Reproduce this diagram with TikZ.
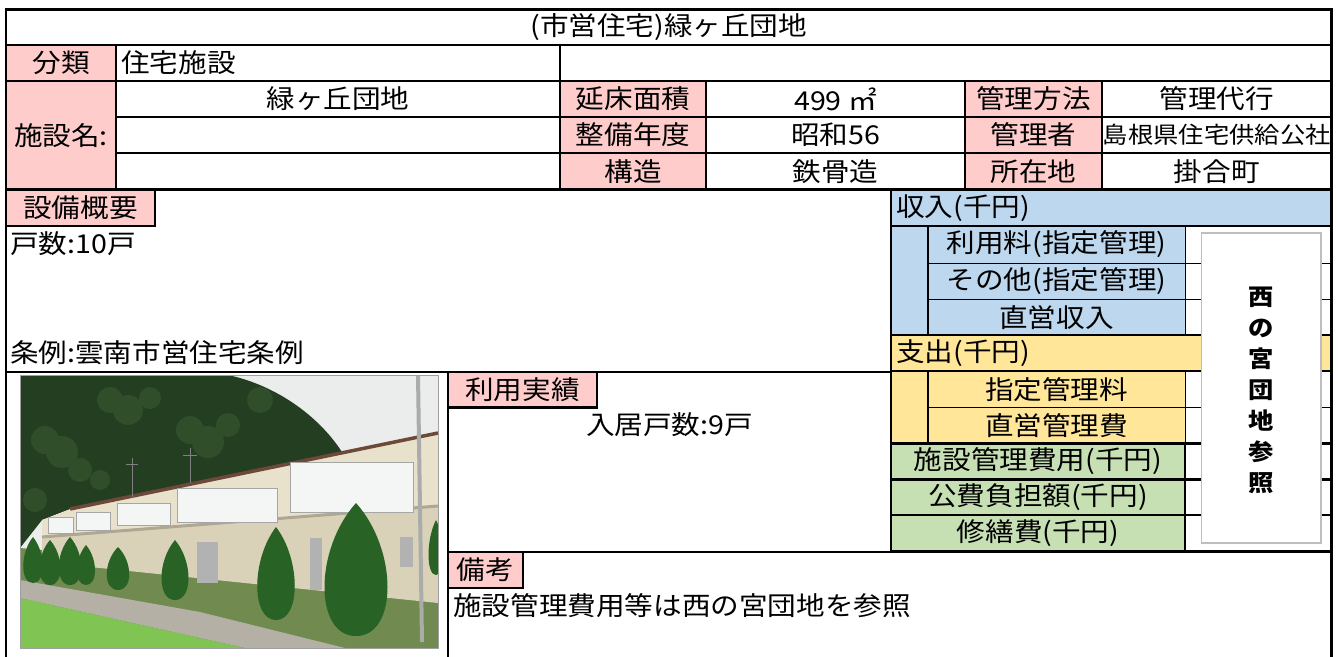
\documentclass[tikz,border=0pt]{standalone}
\usepackage{fontspec}
\setmainfont{Noto Sans CJK JP}[FakeStretch=1.1]
\usepackage{tikz}
\usetikzlibrary{fit}
\definecolor{LblPink}{RGB}{255,204,204}
\definecolor{InBlue}{RGB}{189,215,238}
\definecolor{OutYellow}{RGB}{255,230,153}
\definecolor{CostGreen}{RGB}{198,224,180}
\definecolor{VBoxGray}{RGB}{190,190,190}
\definecolor{PhSky}{RGB}{234,237,235}
\definecolor{PhTree}{RGB}{36,62,34}
\definecolor{PhTreeLt}{RGB}{62,98,50}
\definecolor{PhWall}{RGB}{218,210,184}
\definecolor{PhWallUp}{RGB}{232,226,204}
\definecolor{PhRoof}{RGB}{110,72,56}
\definecolor{PhRail}{RGB}{244,246,246}
\definecolor{PhCypress}{RGB}{40,98,36}
\definecolor{PhGrass}{RGB}{128,196,84}
\definecolor{PhGround}{RGB}{112,138,80}
\definecolor{PhPath}{RGB}{180,176,166}
\definecolor{PhPole}{RGB}{170,172,172}
\definecolor{PhFrame}{RGB}{160,160,160}
\newcommand{\thk}{2.4pt}
\newcommand{\thn}{1pt}
\newcommand{\jpsmall}{\fontsize{23}{26}\selectfont}
\tikzset{cell/.style={draw, line width=\thk, inner sep=0pt}}
\tikzset{thincell/.style={draw, line width=\thn, inner sep=0pt}}
\tikzset{lbl/.style={cell, fill=LblPink}}
\tikzset{txt/.style={inner sep=0pt, anchor=west}}
% cell with its text set in the middle
\newcommand{\tcell}[4]{\node[#1, fit={#2}] (#3) {}; \node (#3-t) at (#3.center) {#4};}
\newcommand{\cypress}[4]{\fill[PhCypress] (#1,#2) .. controls ({#1+#4},{#2+0.35*(#3-#2)}) and ({#1+#4},#3) .. (#1,#3) .. controls ({#1-#4},#3) and ({#1-#4},{#2+0.35*(#3-#2)}) .. (#1,#2);}

\begin{document}
\begin{tikzpicture}[x=1pt, y=-1pt, font=\fontsize{26}{30}\selectfont]
  \path[use as bounding box, fill=white] (0,0) rectangle (1338,656);

  % --- outline and title ---
  \node[cell, fit={(6,9.5) (1331.5,662)}] (frame) {};
  \tcell{cell}{(6,9.5) (1331.5,45)}{title}{(市営住宅)緑ヶ丘団地}

  % --- classification row ---
  \tcell{lbl}{(6,45) (116,81)}{bunrui}{分類}
  \node[cell, fit={(116,45) (560,81)}] (bunruiVal) {};
  \node[txt] (bunruiTxt) at (121,63) {住宅施設};
  \node[cell, fit={(560,45) (1331.5,81)}] (bunruiRest) {};

  % --- facility name ---
  \tcell{lbl}{(6,81) (116,189.5)}{meisho}{施設名:}
  \tcell{cell}{(116,81) (560,117)}{meishoA}{緑ヶ丘団地}
  \node[cell, fit={(116,117) (560,153)}] (meishoB) {};
  \node[cell, fit={(116,153) (560,189.5)}] (meishoC) {};

  % --- attributes ---
  \tcell{lbl}{(560,81) (706,117)}{menseki}{延床面積}
  \tcell{lbl}{(560,117) (706,153)}{nendo}{整備年度}
  \tcell{lbl}{(560,153) (706,189.5)}{kozo}{構造}
  \tcell{cell}{(706,81) (965,117)}{mensekiV}{499 ㎡}
  \tcell{cell}{(706,117) (965,153)}{nendoV}{昭和56}
  \tcell{cell}{(706,153) (965,189.5)}{kozoV}{鉄骨造}
  \tcell{lbl}{(965,81) (1102,117)}{hoho}{管理方法}
  \tcell{lbl}{(965,117) (1102,153)}{kanrisha}{管理者}
  \tcell{lbl}{(965,153) (1102,189.5)}{shozai}{所在地}
  \tcell{cell}{(1102,81) (1331.5,117)}{hohoV}{管理代行}
  \tcell{cell}{(1102,117) (1331.5,153)}{kanrishaV}{\jpsmall 島根県住宅供給公社}
  \tcell{cell}{(1102,153) (1331.5,189.5)}{shozaiV}{掛合町}

  % --- equipment summary ---
  \node[cell, fit={(6,189.5) (891,371.7)}] (setsubi) {};
  \tcell{lbl}{(6,189.5) (155,226)}{setsubiL}{設備概要}
  \node[txt] (kosu) at (10,244) {戸数:10戸};
  \node[txt] (jorei) at (10,353) {条例:雲南市営住宅条例};

  % --- income / expenditure panel ---
  \node[thincell, fit={(1185,226) (1331.5,263)}] (riyoryoV) {};
  \node[thincell, fit={(1185,263) (1331.5,299.5)}] (sonotaV) {};
  \node[thincell, fit={(1185,299.5) (1331.5,335)}] (chokueiV) {};
  \node[thincell, fit={(1185,371) (1331.5,407.5)}] (shiteiV) {};
  \node[thincell, fit={(1185,407.5) (1331.5,443.5)}] (kanriV) {};
  \tcell{thincell, fill=InBlue}{(928,226) (1185,263)}{riyoryo}{利用料(指定管理)}
  \tcell{thincell, fill=InBlue}{(928,263) (1185,299.5)}{sonota}{その他(指定管理)}
  \tcell{thincell, fill=InBlue}{(928,299.5) (1185,335)}{chokuei}{直営収入}
  \tcell{thincell, fill=OutYellow}{(928,371) (1185,407.5)}{shitei}{指定管理料}
  \tcell{thincell, fill=OutYellow}{(928,407.5) (1185,443.5)}{kanri}{直営管理費}

  \node[cell, fill=InBlue, fit={(891,189.5) (1331.5,226)}] (shunyu) {};
  \node[txt] (shunyuTxt) at (896,208) {収入(千円)};
  \node[cell, fill=InBlue, fit={(891,226) (928,335)}] (shunyuSide) {};
  \node[cell, fill=OutYellow, fit={(891,335) (1331.5,371)}] (shishutsu) {};
  \node[txt] (shishutsuTxt) at (896,353) {支出(千円)};
  \node[cell, fill=OutYellow, fit={(891,371) (928,443.5)}] (shishutsuSide) {};

  \tcell{cell, fill=CostGreen}{(891,443.5) (1185,479.5)}{hiyo}{施設管理費用(千円)}
  \tcell{cell, fill=CostGreen}{(891,479.5) (1185,515)}{kohi}{公費負担額(千円)}
  \tcell{cell, fill=CostGreen}{(891,515) (1185,551.5)}{shuzen}{修繕費(千円)}
  \node[cell, fit={(1185,443.5) (1331.5,479.5)}] (hiyoV) {};
  \node[cell, fit={(1185,479.5) (1331.5,515)}] (kohiV) {};
  \node[cell, fit={(1185,515) (1331.5,551.5)}] (shuzenV) {};
  \node[cell, fit={(891,189.5) (1331.5,551.5)}] (panel) {};

  \node[draw=VBoxGray, line width=1.6pt, fill=white, inner sep=0pt,
        fit={(1201.5,232.7) (1320.7,543)}] (sanshoBox) {};
  \node[align=center, font=\bfseries\fontsize{23}{31}\selectfont] (sansho)
        at ([yshift=-3pt]sanshoBox.center) {西\\の\\宮\\団\\地\\参\\照};

  % --- photo ---
  \node[cell, fit={(6,371.7) (448,662)}] (photoArea) {};
  \begin{scope}
    \clip (20,375) rectangle (438,648);
    \fill[PhSky] (20,375) rectangle (438,648);
    \fill[PhTree] (20,375) -- (228,375) .. controls (275,385) and (318,415) .. (342,452)
                  -- (73,508) -- (42,520) -- (20,548) -- cycle;
    % foliage
    \fill[PhTreeLt, opacity=.45] (45,440) circle (14) (62,452) circle (16) (80,470) circle (12)
          (110,400) circle (13) (128,410) circle (15) (150,398) circle (11)
          (190,430) circle (14) (208,442) circle (16) (228,425) circle (12)
          (260,400) circle (13) (35,500) circle (12) (100,480) circle (10);
    \fill[PhGround] (20,548) -- (438,585) -- (438,648) -- (20,648) -- cycle;
    % building
    \fill[PhWall] (42,537) -- (438,506) -- (438,603) -- (42,562) -- cycle;
    \fill[PhWallUp] (42,520) -- (73,508) -- (438,433) -- (438,506) -- (42,537) -- cycle;
    \draw[PhRoof, line width=3.5pt] (70,509) -- (438,433);
    \draw[PhWall!80!black, line width=3pt] (42,537) -- (438,506);
    \fill[PhRail] (48,517) rectangle (73,533);
    \fill[PhRail] (76,512) rectangle (110,530);
    \fill[PhRail] (117,503) rectangle (170,525);
    \fill[PhRail] (177,488) rectangle (277,522);
    \fill[PhRail] (290,462) rectangle (413,512);
    \draw[gray!70, line width=.8pt] (48,517) rectangle (73,533) (76,512) rectangle (110,530)
          (117,503) rectangle (170,525) (177,488) rectangle (277,522) (290,462) rectangle (413,512);
    \fill[gray!60] (197,542) rectangle (218,583);
    \fill[gray!60] (310,538) rectangle (322,590);
    \fill[gray!60] (400,537) rectangle (413,567);
    \draw[gray, line width=1pt] (132,458) -- (132,497) (126,464) -- (138,464);
    \draw[gray, line width=1pt] (190,448) -- (190,483) (183,455) -- (197,455);
    % ground
    \fill[PhPath] (20,580) -- (200,612) -- (345,648) -- (245,648) -- (20,598) -- cycle;
    \fill[PhGrass] (20,598) -- (245,648) -- (20,648) -- cycle;
    \cypress{33}{537}{583}{13}
    \cypress{50}{540}{585}{14}
    \cypress{70}{537}{585}{15}
    \cypress{86}{545}{585}{12}
    \cypress{118}{547}{590}{15}
    \cypress{175}{540}{600}{18}
    \cypress{276}{527}{620}{25}
    \cypress{356}{503}{636}{42}
    \cypress{436}{520}{575}{10}
    \draw[PhPole, line width=4pt] (418,375) -- (422,642);
  \end{scope}
  \draw[PhFrame, line width=1pt] (20,375) rectangle (438,648);

  % --- results ---
  \node[cell, fit={(448,371.7) (891,552)}] (jisseki) {};
  \tcell{lbl}{(448,371.7) (597,407.3)}{jissekiL}{利用実績}
  \node (nyukyo) at (669.5,425) {入居戸数:9戸};

  % --- remarks ---
  \node[cell, fit={(448,552) (1331.5,662)}] (biko) {};
  \tcell{lbl}{(448,552) (523,588)}{bikoL}{備考}
  \node[txt] (bikoTxt) at (453,606) {施設管理費用等は西の宮団地を参照};
\end{tikzpicture}
\end{document}
